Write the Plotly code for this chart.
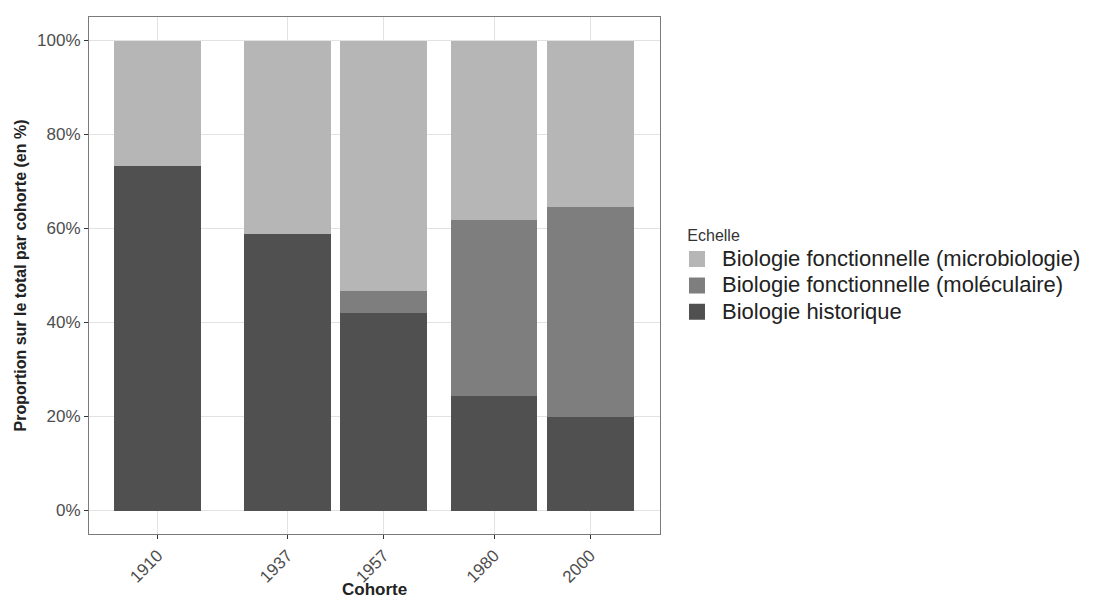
import plotly.graph_objects as go

cohortes = [1910, 1937, 1957, 1980, 2000]
historique = [73.3, 58.9, 42.1, 24.3, 19.8]
moleculaire = [0.0, 0.0, 4.5, 37.6, 44.8]
microbiologie = [26.7, 41.1, 53.4, 38.1, 35.4]

series = [
    ("Biologie historique", historique, "#505050"),
    ("Biologie fonctionnelle (moléculaire)", moleculaire, "#7e7e7e"),
    ("Biologie fonctionnelle (microbiologie)", microbiologie, "#b6b6b6"),
]

fig = go.Figure()
for name, vals, col in series:
    fig.add_trace(go.Bar(
        x=cohortes, y=vals, name=name, width=18, legendgroup=name,
        showlegend=False,
        marker=dict(color=col, line=dict(width=0)),
    ))
    # legend entry with a larger square swatch
    fig.add_trace(go.Scatter(
        x=[None], y=[None], mode="markers",
        name='<span style="font-size:22px">' + name + '</span>',
        legendgroup=name,
        marker=dict(symbol="square", size=20, color=col),
    ))

# the page body has an 8px margin, so the figure is drawn 8px smaller
fig.update_layout(
    width=1089, height=593,
    barmode="stack",
    paper_bgcolor="white", plot_bgcolor="white",
    margin=dict(l=81, r=437, t=9, b=67, autoexpand=False),
    font=dict(family="Liberation Sans, Arial, sans-serif", color="#4d4d4d"),
    legend=dict(
        title=dict(text='<span style="font-size:16px">\u00a0\u00a0\u00a0Echelle</span>',
                   font=dict(size=27, color="#333333")),
        traceorder="reversed",
        font=dict(size=18, color="#222222"),
        x=1.021, xanchor="left", y=0.635, yanchor="top",
        tracegroupgap=0, itemwidth=40, itemsizing="trace",
    ),
    showlegend=True,
    annotations=[dict(
        text="<b>Cohorte</b>", xref="paper", yref="paper",
        x=0.5, y=-0.129, xanchor="center", yanchor="bottom", showarrow=False,
        font=dict(size=17, color="#222222"),
    )],
)

fig.update_xaxes(
    range=[1895.7, 2014.5], automargin=False,
    tickvals=cohortes, ticktext=[str(c) for c in cohortes],
    tickangle=-45, tickfont=dict(size=17, color="#4d4d4d"),
    ticks="outside", ticklen=4, tickcolor="#333333",
    showgrid=True, gridcolor="#e2e2e2", gridwidth=1,
    showline=True, linecolor="#7a7a7a", linewidth=1, mirror=True,
    zeroline=False,
)
fig.update_yaxes(
    range=[-5, 105], automargin=False,
    tickvals=[0, 20, 40, 60, 80, 100],
    ticktext=["0%", "20%", "40%", "60%", "80%", "100%"],
    tickfont=dict(size=17, color="#4d4d4d"),
    ticks="outside", ticklen=4, tickcolor="#333333",
    showgrid=True, gridcolor="#e2e2e2", gridwidth=1,
    showline=True, linecolor="#7a7a7a", linewidth=1, mirror=True,
    zeroline=False,
    title=dict(text="<b>Proportion sur le total par cohorte (en %)</b>",
               font=dict(size=16, color="#222222"), standoff=6),
)

fig.write_html("out.html")
